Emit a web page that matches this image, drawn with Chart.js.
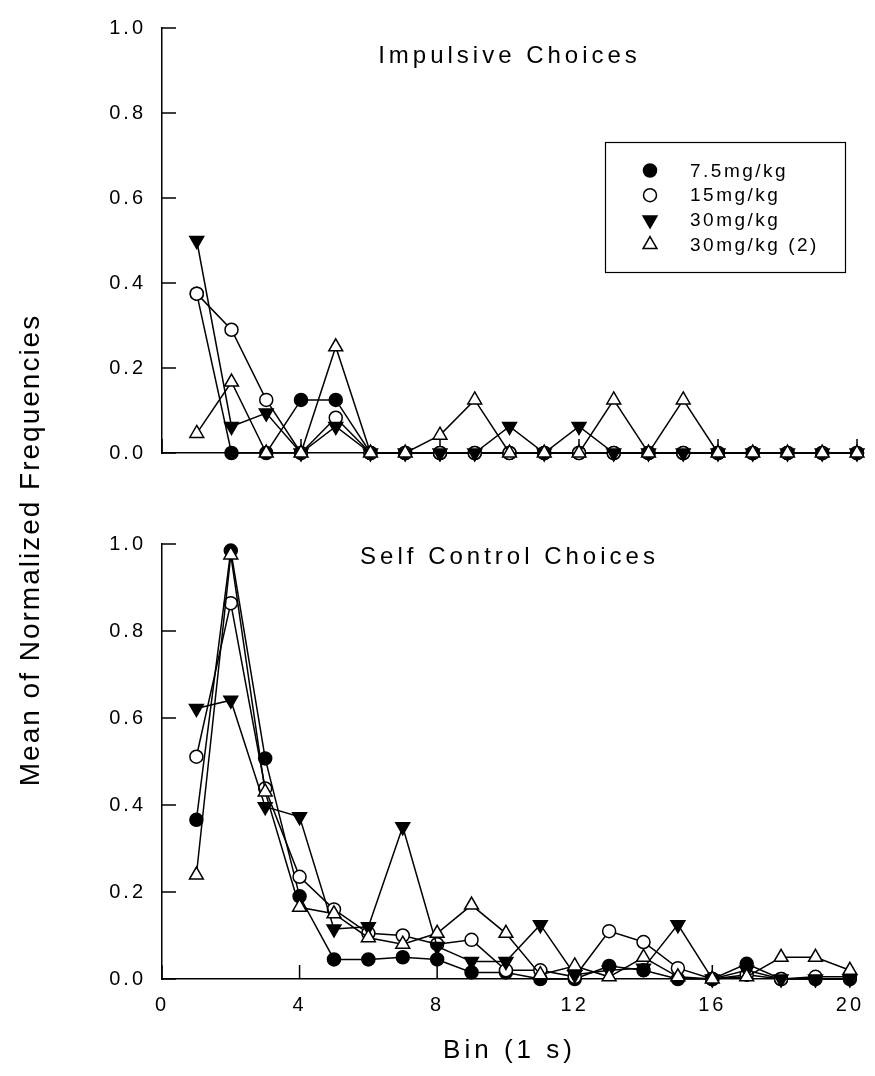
<!DOCTYPE html>
<html>
<head>
<meta charset="utf-8">
<script src="https://cdn.jsdelivr.net/npm/chart.js@4.4.1/dist/chart.umd.min.js"></script>
<style>
  body { margin: 0; background: #fff; }
  #wrap { position: relative; width: 875px; height: 1076px; overflow: hidden; }
  canvas { position: absolute; left: 0; top: 0; }
  .txt { position: absolute; font-family: "Liberation Sans", Arial, sans-serif; color: #000; white-space: nowrap; line-height: 1; }
</style>
</head>
<body>
<div id="wrap">
  <canvas id="impulsive" width="875" height="1076"></canvas>
  <canvas id="selfControl" width="875" height="1076"></canvas>
  <div class="txt" id="title1" style="left:162px;width:695px;top:43px;text-align:center;font-size:24px;letter-spacing:4px;">Impulsive Choices</div>
  <div class="txt" id="title2" style="left:162px;width:695px;top:544px;text-align:center;font-size:24px;letter-spacing:4px;">Self Control Choices</div>
  <div class="txt" id="ylabel" style="left:-270px;width:600px;top:536px;text-align:center;font-size:28px;letter-spacing:2px;transform:rotate(-90deg);">Mean of Normalized Frequencies</div>
  <div class="txt" id="xlabel" style="left:162px;width:695px;top:1036px;text-align:center;font-size:26px;letter-spacing:4px;">Bin (1 s)</div>
</div>
<script>
// bins (1 s each)
var bins = [1, 2, 3, 4, 5, 6, 7, 8, 9, 10, 11, 12, 13, 14, 15, 16, 17, 18, 19, 20];
var doseLabels = ["7.5mg/kg", "15mg/kg", "30mg/kg", "30mg/kg (2)"];

// impulsive choices
var imp75  = [0.375, 0, 0, 0.125, 0.125, 0, 0, 0, 0, 0, 0, 0, 0, 0, 0, 0, 0, 0, 0, 0];
var imp15  = [0.375, 0.29, 0.125, 0, 0.083, 0, 0, 0, 0, 0, 0, 0, 0, 0, 0, 0, 0, 0, 0, 0];
var imp30  = [0.5, 0.0625, 0.094, 0, 0.0625, 0, 0, 0, 0, 0.0625, 0, 0.0625, 0, 0, 0, 0, 0, 0, 0, 0];
var imp30b = [0.046, 0.167, 0, 0, 0.25, 0, 0, 0.042, 0.125, 0, 0, 0, 0.125, 0, 0.125, 0, 0, 0, 0, 0];

// self control choices
var sc75  = [0.366, 0.985, 0.507, 0.19, 0.045, 0.045, 0.05, 0.045, 0.015, 0.015, 0, 0, 0.03, 0.02, 0, 0, 0.035, 0, 0, 0];
var sc15  = [0.511, 0.864, 0.438, 0.235, 0.16, 0.105, 0.1, 0.08, 0.09, 0.02, 0.02, 0.005, 0.11, 0.085, 0.025, 0, 0.01, 0, 0.005, 0.005];
var sc30  = [0.622, 0.641, 0.396, 0.373, 0.115, 0.12, 0.35, 0.075, 0.04, 0.04, 0.125, 0.01, 0.02, 0.025, 0.125, 0, 0.02, 0, 0, 0];
var sc30b = [0.239, 0.975, 0.43, 0.165, 0.15, 0.095, 0.08, 0.105, 0.17, 0.105, 0.01, 0.03, 0.005, 0.05, 0.005, 0, 0.005, 0.05, 0.05, 0.02];

var FONT = "'Liberation Sans', Arial, sans-serif";
var TICK = 14;

Chart.defaults.color = "#000";
Chart.defaults.font.family = FONT;

// marker styles per dose: filled circle, open circle, filled down-triangle, open up-triangle
var styles = [
  { pointStyle: "circle", rotation: 0, fill: "#000", radius: 6.5 },
  { pointStyle: "circle", rotation: 0, fill: "#fff", radius: 6.5 },
  { pointStyle: "triangle", rotation: 180, fill: "#000", radius: 8 },
  { pointStyle: "triangle", rotation: 0, fill: "#fff", radius: 8 }
];

function makeSets(series) {
  return series.map(function (vals, i) {
    var s = styles[i];
    return {
      label: doseLabels[i],
      data: bins.map(function (b, j) { return { x: b, y: vals[j] }; }),
      borderColor: "#000",
      borderWidth: 1.5,
      pointStyle: s.pointStyle,
      pointRotation: s.rotation,
      pointRadius: s.radius,
      pointBackgroundColor: s.fill,
      pointBorderColor: "#000",
      pointBorderWidth: 1.5,
      tension: 0,
      fill: false,
      clip: false,
      order: 3 - i
    };
  });
}

// ticks in SigmaPlot style: pointing into the plot
var inwardTicks = {
  id: "inwardTicks",
  beforeDatasetsDraw: function (chart) {
    var ctx = chart.ctx, area = chart.chartArea, x = chart.scales.x, y = chart.scales.y;
    ctx.save();
    ctx.strokeStyle = "#000";
    ctx.lineWidth = 1.5;
    ctx.beginPath();
    x.ticks.forEach(function (t) {
      var px = x.getPixelForValue(t.value);
      ctx.moveTo(px, area.bottom);
      ctx.lineTo(px, area.bottom - TICK);
    });
    y.ticks.forEach(function (t) {
      var py = y.getPixelForValue(t.value);
      ctx.moveTo(area.left, py);
      ctx.lineTo(area.left + TICK, py);
    });
    ctx.stroke();
    ctx.restore();
  }
};

var spacedText = {
  id: "spacedText",
  beforeDraw: function (chart) { chart.ctx.letterSpacing = "3px"; }
};

// boxed legend inside the top panel
var boxLegend = {
  id: "boxLegend",
  afterDraw: function (chart) {
    var ctx = chart.ctx;
    ctx.save();
    ctx.strokeStyle = "#000";
    ctx.lineWidth = 1.2;
    ctx.strokeRect(605.5, 142.5, 240, 130);
    ctx.font = "19px " + FONT;
    ctx.letterSpacing = "2.5px";
    ctx.textBaseline = "middle";
    chart.data.datasets.forEach(function (ds, i) {
      var yy = 170.5 + i * 24.7;
      ctx.fillStyle = ds.pointBackgroundColor;
      ctx.strokeStyle = "#000";
      ctx.lineWidth = 1.5;
      Chart.helpers.drawPoint(ctx, {
        pointStyle: ds.pointStyle,
        rotation: ds.pointRotation,
        radius: ds.pointRadius,
        borderWidth: 1.5
      }, 650, yy);
      ctx.fillStyle = "#000";
      ctx.fillText(ds.label, 690, yy + 1);
    });
    ctx.restore();
  }
};

function panelOptions(opts) {
  return {
    responsive: false,
    animation: false,
    devicePixelRatio: 1,
    layout: { padding: opts.padding },
    plugins: { legend: { display: false }, tooltip: { enabled: false } },
    scales: {
      x: {
        type: "linear",
        min: 0,
        max: 20,
        ticks: { display: opts.showX, stepSize: 4, font: { size: 20 }, padding: 14, maxRotation: 0 },
        grid: { drawOnChartArea: false, drawTicks: false },
        border: { display: true, color: "#000", width: 1.5 },
        afterFit: function (s) { s.height = opts.xHeight; }
      },
      y: {
        min: 0,
        max: 1,
        ticks: {
          stepSize: 0.2,
          font: { size: 20 },
          padding: 16,
          callback: function (v) { return v.toFixed(1); }
        },
        grid: { drawOnChartArea: false, drawTicks: false },
        border: { display: true, color: "#000", width: 1.5 },
        afterFit: function (s) { s.width = 162; }
      }
    }
  };
}

new Chart(document.getElementById("impulsive"), {
  type: "line",
  data: { datasets: makeSets([imp75, imp15, imp30, imp30b]) },
  options: panelOptions({ padding: { left: 0, top: 18, right: 18, bottom: 623 }, showX: false, xHeight: 0 }),
  plugins: [spacedText, inwardTicks, boxLegend]
});

new Chart(document.getElementById("selfControl"), {
  type: "line",
  data: { datasets: makeSets([sc75, sc15, sc30, sc30b]) },
  options: panelOptions({ padding: { left: 0, top: 544, right: 18, bottom: 0 }, showX: true, xHeight: 97 }),
  plugins: [spacedText, inwardTicks]
});
</script>
</body>
</html>
